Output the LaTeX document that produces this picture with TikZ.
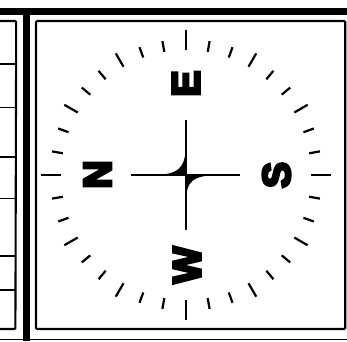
\documentclass[tikz,border=0pt]{standalone}
\usepackage{fontspec}
\newfontfamily\heavyfont[FakeBold=7]{Liberation Sans Bold}
\tikzset{
  x=1pt,y=-1pt,
  ink/.style={black},
  heavy/.style={ink,line width=6.8pt},
  panel/.style={ink,line width=2.1pt,rounded corners=1pt},
  rowline/.style={ink,line width=1.5pt},
  armline/.style={ink,line width=2.1pt},
  compassletter/.style={ink,font=\heavyfont\fontsize{39}{39}\selectfont,rotate=90,inner sep=0pt,outer sep=0pt}
}
\begin{document}
\begin{tikzpicture}
\useasboundingbox[fill=white] (0,0) rectangle (347,341);
% outer bars
\draw[heavy] (0,11.3) -- (347,11.3);
\draw[heavy] (26.2,8) -- (26.2,341);
\draw[ink,line width=1.3pt] (0,339.6) -- (347,339.6);
% left panel
\draw[panel] (0,21) -- (16.2,21) -- (15.4,329) -- (0,329);
\foreach \yy in {64,107.5,157,198.5,256,290}{
  \draw[rowline] (0,\yy) -- (15.8,\yy);
}
% right panel
\draw[panel] (36,21) rectangle (345.2,329);
% compass
\coordinate (c) at (186,175);
\foreach \a in {0,10,20,30,40,50,60,70,80,90,100,110,120,130,140,150,160,170,180,190,200,210,220,230,240,250,260,270,280,290,300,310,320,330,340,350}{
  \pgfmathsetmacro{\rr}{mod(\a,90)==0 ? 145 : (mod(\a,30)==0 ? 140.5 : 136)}
  \draw[ink,line width=2.2pt] ({186+125*sin(\a)},{175-125*cos(\a)}) -- ({186+\rr*sin(\a)},{175-\rr*cos(\a)});
}
\coordinate (armN) at (186,120);
\coordinate (armS) at (186,230);
\coordinate (armW) at (131,175);
\coordinate (armE) at (240,175);
\draw[armline] (armN) -- (armS);
\draw[armline] (armW) -- (armE);
\fill[ink] (186,141) .. controls (186,168) and (180,175) .. (151,175) -- (c) -- cycle;
\fill[ink] (186,203) .. controls (186,181) and (192,175) .. (221,175) -- (c) -- cycle;
\node[compassletter] (E) at (186,83.5) {E};
\node[compassletter] (N) at (97.5,174.5) {N};
\node[compassletter] (S) at (276.5,175) {S};
\node[compassletter] (W) at (187,265) {W};
\end{tikzpicture}
\end{document}
